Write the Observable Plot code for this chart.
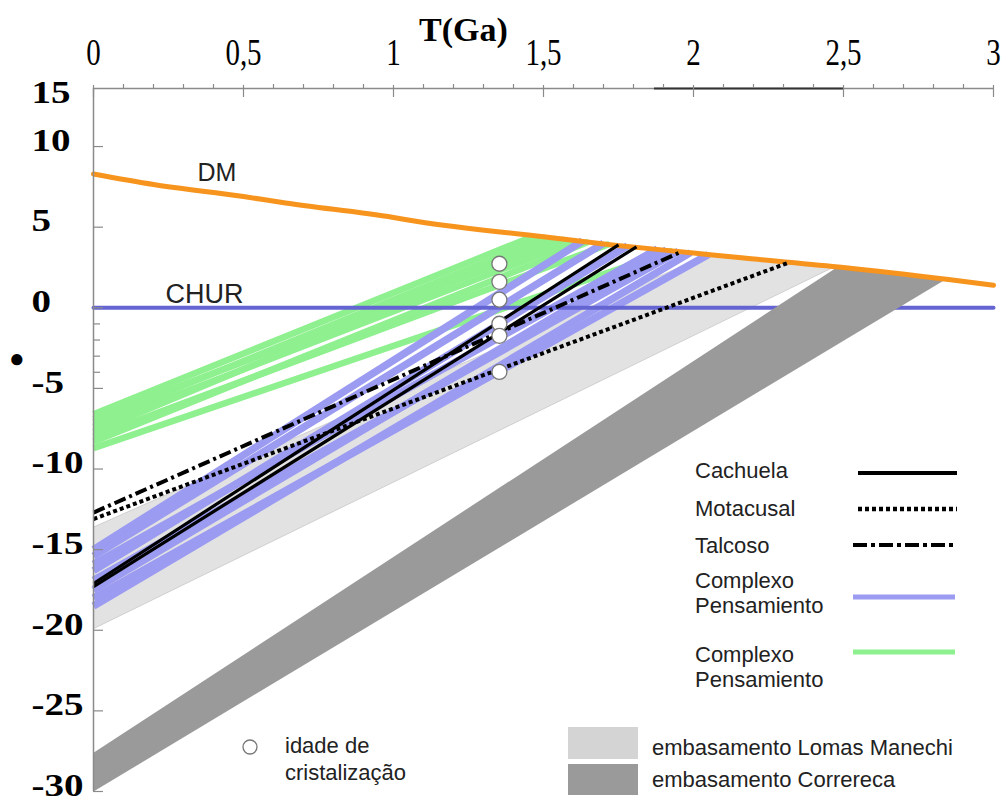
<!DOCTYPE html>
<html><head><meta charset="utf-8">
<script src="https://cdn.jsdelivr.net/npm/d3@7"></script>
<script src="https://cdn.jsdelivr.net/npm/@observablehq/plot@0.6"></script>
<style>
body{margin:0;background:#fff;}
#wrap{position:relative;width:1007px;height:801px;overflow:hidden;}
#wrap svg.ov{position:absolute;left:0;top:0;pointer-events:none;}
.lt{font-family:"Liberation Sans",Arial,sans-serif;font-size:22px;fill:#222;}
</style></head><body><div id="wrap"></div>
<script>
// ---- data (T in Ga, epsilon Nd) ----
const xTicks = [0, 0.5, 1, 1.5, 2, 2.5, 3];
const yTicks = [10, 5, 0, -5, -10, -15, -20, -25, -30];
const yMinorTicks = [-1, -2, -3, -4];
const yDomain = [-30, 13.6];
const topAxisDarkSpan = [1.87, 2.5];

const dmT = [0, 0.2, 0.5, 0.64, 1, 1.08, 1.5, 1.73, 2, 2.16, 2.5, 2.85, 3];
const dmE = [8.3, 7.65, 6.9, 6.5, 5.6, 5.35, 4.4, 3.9, 3.4, 3.1, 2.5, 1.75, 1.4];
const churT = [0, 3];
const churE = [0, 0];

const greenStartE = [-6.6, -6.9, -7.1, -7.4, -7.7, -8.0, -8.3, -8.7];
const greenEndT   = [1.47, 1.57, 1.51, 1.61, 1.54, 1.72, 1.65, 1.93];
const greenEndE   = [4.47, 4.25, 4.37, 4.16, 4.30, 3.96, 4.09, 3.54];

const blueStartE = [-15.0, -15.4, -15.9, -16.3, -16.9, -17.5, -18.0, -18.5];
const blueEndT   = [1.63, 1.70, 1.88, 1.78, 1.95, 1.91, 2.05, 1.99];
const blueEndE   = [4.14, 4.00, 3.64, 3.84, 3.50, 3.58, 3.31, 3.42];

const cachuelaStartE = [-17.1, -17.3];
const cachuelaEndT   = [1.75, 1.81];
const cachuelaEndE   = [3.90, 3.78];

const talcosoStartE = [-12.7];
const talcosoEndT   = [1.96];
const talcosoEndE   = [3.48];

const motacusalStartE = [-13.1];
const motacusalEndT   = [2.32];
const motacusalEndE   = [2.82];

const lomasT = [0, 2.05, 2.47, 0];
const lomasE = [-13.6, 3.31, 2.55, -19.9];
const correrecaT = [0, 2.48, 2.84, 0];
const correrecaE = [-27.6, 2.53, 1.75, -30];

const crystT = [1.353, 1.353, 1.353, 1.353, 1.353, 1.353];
const crystE = [2.73, 1.61, 0.5, -0.99, -1.74, -3.98];

// ---- build tables ----
const pts = (T, E) => T.map((t, i) => ({T: t, E: E[i]}));
const segs = (s, eT, eE) => s.flatMap((v, i) => [{id: i, T: 0, E: v}, {id: i, T: eT[i], E: eE[i]}]);
const dm = pts(dmT, dmE), chur = pts(churT, churE);
const green = segs(greenStartE, greenEndT, greenEndE);
const blue = segs(blueStartE, blueEndT, blueEndE);
const cach = segs(cachuelaStartE, cachuelaEndT, cachuelaEndE);
const talc = segs(talcosoStartE, talcosoEndT, talcosoEndE);
const mota = segs(motacusalStartE, motacusalEndT, motacusalEndE);
const lomas = pts(lomasT, lomasE), corr = pts(correrecaT, correrecaE);
const cryst = pts(crystT, crystE);
const xMinor = d3.range(1, 30).map(d => d / 10).filter(d => Math.abs(d * 2 - Math.round(d * 2)) > 1e-6);

const W = 1007, H = 801, mL = 93, mR = 14, mT = 88, mB = 10;
const fw = W - mL - mR, fh = H - mT - mB;
const axisGrey = "#8a8a8a";
const serif = "'Liberation Serif','Times New Roman',serif";
const sans = "'Liberation Sans',Arial,sans-serif";

const chart = Plot.plot({
  width: W, height: H,
  marginLeft: mL, marginRight: mR, marginTop: mT, marginBottom: mB,
  x: {domain: [0, 3], axis: null},
  y: {domain: yDomain, axis: null},
  style: {background: "white", overflow: "visible"},
  marks: [
    Plot.line(lomas, {x: "T", y: "E", fill: "#e2e2e2", stroke: "#c8c8c8", strokeWidth: 0.8}),
    Plot.line(green, {x: "T", y: "E", z: "id", stroke: "#8ef08e", strokeWidth: 6.5, strokeLinecap: "butt"}),
    Plot.line(blue, {x: "T", y: "E", z: "id", stroke: "#9b9bf2", strokeWidth: 7.5, strokeLinecap: "butt"}),
    Plot.line(chur, {x: "T", y: "E", stroke: "#6464d2", strokeWidth: 4}),
    Plot.line(corr, {x: "T", y: "E", fill: "#9a9a9a", stroke: "none"}),
    Plot.line(dm, {x: "T", y: "E", stroke: "#f7941d", strokeWidth: 5, curve: "monotone-x"}),
    Plot.line(cach, {x: "T", y: "E", z: "id", stroke: "black", strokeWidth: 3.2, strokeLinecap: "butt"}),
    Plot.line(talc, {x: "T", y: "E", z: "id", stroke: "black", strokeWidth: 4, strokeDasharray: "12,4,3,4", strokeLinecap: "butt"}),
    Plot.line(mota, {x: "T", y: "E", z: "id", stroke: "black", strokeWidth: 4, strokeDasharray: "4,3", strokeLinecap: "butt"}),
    Plot.dot(cryst, {x: "T", y: "E", r: 7.5, fill: "white", stroke: "#777", strokeWidth: 1.3}),
    // axis lines and ticks
    Plot.ruleX([0], {stroke: axisGrey, strokeWidth: 1.5}),
    Plot.ruleY([yDomain[1]], {stroke: axisGrey, strokeWidth: 1.5}),
    Plot.ruleY([yDomain[1]], {x1: topAxisDarkSpan[0], x2: topAxisDarkSpan[1], stroke: "#333", strokeWidth: 2}),
    Plot.tickX(xTicks, {x: d => d, insetTop: -3, insetBottom: fh - 9, stroke: axisGrey, strokeWidth: 1.2}),
    Plot.tickX(xMinor, {x: d => d, insetTop: -4, insetBottom: fh, stroke: axisGrey, strokeWidth: 1.2}),
    Plot.tickY(yTicks, {y: d => d, insetRight: fw - 10, stroke: axisGrey, strokeWidth: 1.2}),
    Plot.tickY(yMinorTicks, {y: d => d, insetRight: fw - 7, stroke: axisGrey, strokeWidth: 1.2}),
    // tick labels (text groups 0..5 in this order)
    Plot.text(xTicks, {x: d => d, text: d => String(d).replace(".", ","), frameAnchor: "top", dy: -36,
      lineAnchor: "middle", fontFamily: serif, fontSize: 29, fill: "black"}),
    Plot.text(yTicks, {y: d => d, text: d => String(d), frameAnchor: "left", dx: -62, dy: -6, textAnchor: "start",
      lineAnchor: "middle", fontFamily: serif, fontSize: 32, fontWeight: "bold", fill: "black"}),
    Plot.text(["15"], {frameAnchor: "top-left", dx: -62, dy: 4, textAnchor: "start", lineAnchor: "middle",
      fontFamily: serif, fontSize: 32, fontWeight: "bold", fill: "black"}),
    Plot.text(["T(Ga)"], {frameAnchor: "top", dx: -80, dy: -58, lineAnchor: "middle",
      fontFamily: serif, fontSize: 34, fontWeight: "bold", fill: "black"}),
    Plot.text(["DM"], {frameAnchor: "top-left", dx: 104, dy: 84, lineAnchor: "middle", fontFamily: sans, fontSize: 25, fill: "#222"}),
    Plot.text(["CHUR"], {frameAnchor: "top-left", dx: 72, dy: 206, lineAnchor: "middle", fontFamily: sans, fontSize: 27, fill: "#222"})
  ]
});
const wrap = document.getElementById("wrap");
wrap.appendChild(chart);

// stretch the scanned-looking tick labels like the reference (about each label's own box)
const textGroups = chart.querySelectorAll('g[aria-label="text"]');
const stretch = (g, sx, sy, fromLeft) => g && g.querySelectorAll("text").forEach(t => {
  let b;
  try { b = t.getBBox(); } catch (e) { return; }
  if (!b || !isFinite(b.x) || !isFinite(b.y) || b.width === 0) return;
  const cx = fromLeft ? b.x : b.x + b.width / 2, cy = b.y + b.height / 2;
  const tr = t.getAttribute("transform") || "";
  t.setAttribute("transform", `${tr} translate(${cx},${cy}) scale(${sx},${sy}) translate(${-cx},${-cy})`);
});
stretch(textGroups[0], 1, 1.3, false);
stretch(textGroups[1], 1.22, 1, true);
stretch(textGroups[2], 1.22, 1, true);

// legend overlay
const ns = "http://www.w3.org/2000/svg";
const ov = document.createElementNS(ns, "svg");
ov.setAttribute("class", "ov"); ov.setAttribute("width", W); ov.setAttribute("height", H);
ov.innerHTML = `
<text class="lt" x="695" y="478">Cachuela</text>
<line x1="858" x2="957" y1="473" y2="473" stroke="black" stroke-width="4"/>
<text class="lt" x="695" y="516">Motacusal</text>
<line x1="858" x2="957" y1="509" y2="509" stroke="black" stroke-width="4.5" stroke-dasharray="4,3"/>
<text class="lt" x="695" y="553">Talcoso</text>
<line x1="853" x2="955" y1="545" y2="545" stroke="black" stroke-width="4" stroke-dasharray="14,4,4,4"/>
<text class="lt" x="695" y="588">Complexo</text>
<text class="lt" x="695" y="613">Pensamiento</text>
<line x1="853" x2="955" y1="597" y2="597" stroke="#9b9bf2" stroke-width="5"/>
<text class="lt" x="695" y="662">Complexo</text>
<text class="lt" x="695" y="687">Pensamiento</text>
<line x1="853" x2="955" y1="652" y2="652" stroke="#8ef08e" stroke-width="5"/>
<circle cx="250" cy="747" r="7" fill="white" stroke="#777" stroke-width="1.3"/>
<text class="lt" x="285" y="753">idade de</text>
<text class="lt" x="285" y="780">cristalização</text>
<rect x="568" y="727" width="70" height="32" fill="#d4d4d4"/>
<rect x="568" y="764" width="70" height="31" fill="#9a9a9a"/>
<text class="lt" x="652" y="755">embasamento Lomas Manechi</text>
<text class="lt" x="652" y="787">embasamento Correreca</text>
<text x="9" y="367" font-size="26" fill="black">●</text>`;
wrap.appendChild(ov);
</script></body></html>
